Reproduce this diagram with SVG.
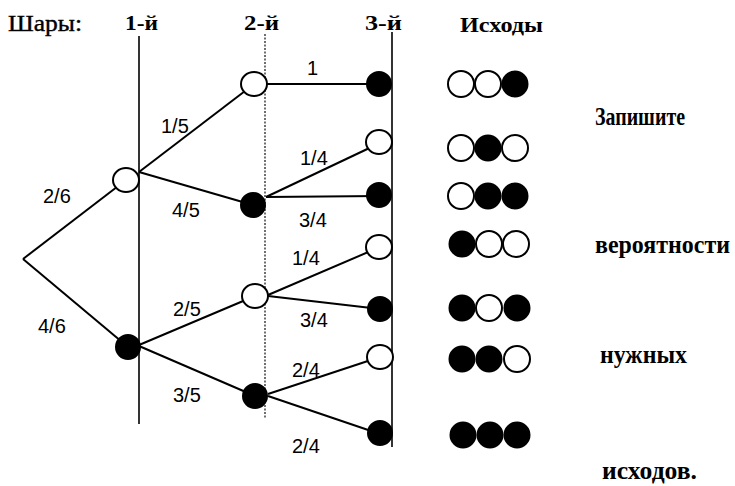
<svg xmlns="http://www.w3.org/2000/svg" width="735" height="486" viewBox="0 0 735 486">
  <style>
    .hdr { font-family: "Liberation Serif", "Times New Roman", serif; font-size: 22px; font-weight: bold; fill: #000; }
    .hdr-r { font-family: "Liberation Serif", "Times New Roman", serif; font-size: 23px; fill: #000; stroke: #000; stroke-width: 0.4; }
    .note { font-family: "Liberation Serif", "Times New Roman", serif; font-size: 25px; font-weight: bold; fill: #000; }
    .prob { font-family: "Liberation Sans", Arial, sans-serif; font-size: 20px; fill: #000; }
    .edge { stroke: #000; stroke-width: 2; fill: none; }
    .axis { stroke: #000; stroke-width: 1.6; }
    .axis-dot { stroke: #222; stroke-width: 1.3; stroke-dasharray: 2 1.5; }
    .w { fill: #fff; stroke: #000; stroke-width: 2; }
    .b { fill: #000; stroke: #000; stroke-width: 2; }
  </style>

  <rect width="735" height="486" fill="#fff"/>

  <!-- column headers -->
  <g id="headers">
    <text class="hdr-r" x="8" y="31" textLength="74" lengthAdjust="spacingAndGlyphs">Шары:</text>
    <text class="hdr" x="125" y="30" textLength="33" lengthAdjust="spacingAndGlyphs">1-й</text>
    <text class="hdr" x="244" y="30" textLength="35" lengthAdjust="spacingAndGlyphs">2-й</text>
    <text class="hdr" x="365" y="30" textLength="37" lengthAdjust="spacingAndGlyphs">3-й</text>
    <text class="hdr" x="460" y="32" textLength="83" lengthAdjust="spacingAndGlyphs">Исходы</text>
  </g>

  <!-- draw-stage guide lines -->
  <g id="guides">
    <line class="axis" x1="139" y1="36" x2="139" y2="424"/>
    <line class="axis-dot" x1="265" y1="34" x2="265" y2="418"/>
    <line class="axis" x1="392" y1="32" x2="392" y2="447"/>
  </g>

  <!-- branches -->
  <g id="connectors">
    <line class="edge" x1="23" y1="259" x2="126" y2="180"/>
    <line class="edge" x1="23" y1="259" x2="128" y2="347"/>
    <line class="edge" x1="139" y1="172" x2="245" y2="91"/>
    <line class="edge" x1="139" y1="172" x2="253" y2="205"/>
    <line class="edge" x1="139" y1="345" x2="255" y2="296"/>
    <line class="edge" x1="139" y1="346" x2="255" y2="396"/>
    <line class="edge" x1="267" y1="84" x2="380" y2="84"/>
    <line class="edge" x1="266" y1="197" x2="380" y2="143"/>
    <line class="edge" x1="266" y1="197" x2="380" y2="196"/>
    <line class="edge" x1="268" y1="295" x2="380" y2="247"/>
    <line class="edge" x1="268" y1="296" x2="380" y2="309"/>
    <line class="edge" x1="268" y1="394" x2="380" y2="357"/>
    <line class="edge" x1="268" y1="396" x2="380" y2="434"/>
  </g>

  <!-- branch probabilities -->
  <g id="labels">
    <text class="prob" x="43" y="203">2/6</text>
    <text class="prob" x="38" y="333">4/6</text>
    <text class="prob" x="161" y="133">1/5</text>
    <text class="prob" x="172" y="217">4/5</text>
    <text class="prob" x="173" y="316">2/5</text>
    <text class="prob" x="173" y="402">3/5</text>
    <text class="prob" x="307" y="75">1</text>
    <text class="prob" x="300" y="165">1/4</text>
    <text class="prob" x="299" y="227">3/4</text>
    <text class="prob" x="292" y="265">1/4</text>
    <text class="prob" x="300" y="327">3/4</text>
    <text class="prob" x="292" y="377">2/4</text>
    <text class="prob" x="292" y="453">2/4</text>
  </g>

  <!-- tree nodes -->
  <g id="root"><circle cx="23" cy="259" r="0.1" fill="#000"/></g>
  <g id="n1w"><ellipse class="w" cx="126" cy="180" rx="13" ry="12"/></g>
  <g id="n1b"><ellipse class="b" cx="128" cy="347" rx="12" ry="12"/></g>
  <g id="n2w-top"><ellipse class="w" cx="254" cy="84" rx="13" ry="12"/></g>
  <g id="n2b-top"><ellipse class="b" cx="253" cy="205" rx="12" ry="12"/></g>
  <g id="n2w-low"><ellipse class="w" cx="255" cy="296" rx="13" ry="12"/></g>
  <g id="n2b-low"><ellipse class="b" cx="255" cy="396" rx="12" ry="12"/></g>
  <g id="n3-1"><ellipse class="b" cx="379" cy="84" rx="12" ry="12"/></g>
  <g id="n3-2"><ellipse class="w" cx="379" cy="142" rx="13" ry="12"/></g>
  <g id="n3-3"><ellipse class="b" cx="379" cy="195" rx="12" ry="12"/></g>
  <g id="n3-4"><ellipse class="w" cx="379" cy="247" rx="13" ry="12"/></g>
  <g id="n3-5"><ellipse class="b" cx="380" cy="309" rx="12" ry="12"/></g>
  <g id="n3-6"><ellipse class="w" cx="380" cy="357" rx="13" ry="12"/></g>
  <g id="n3-7"><ellipse class="b" cx="380" cy="433" rx="12" ry="12"/></g>

  <!-- outcomes -->
  <g id="outcomes">
    <g id="o1"><circle class="w" cx="461" cy="84" r="13"/><circle class="w" cx="488" cy="84" r="13"/><circle class="b" cx="515" cy="84" r="12.5"/></g>
    <g id="o2"><circle class="w" cx="461" cy="148" r="13"/><circle class="b" cx="488" cy="148" r="12.5"/><circle class="w" cx="515" cy="148" r="13"/></g>
    <g id="o3"><circle class="w" cx="461" cy="196" r="13"/><circle class="b" cx="488" cy="196" r="12.5"/><circle class="b" cx="515" cy="196" r="12.5"/></g>
    <g id="o4"><circle class="b" cx="462" cy="244" r="12.5"/><circle class="w" cx="489" cy="244" r="13"/><circle class="w" cx="516" cy="244" r="13"/></g>
    <g id="o5"><circle class="b" cx="462" cy="308" r="12.5"/><circle class="w" cx="489" cy="308" r="13"/><circle class="b" cx="517" cy="308" r="12.5"/></g>
    <g id="o6"><circle class="b" cx="462" cy="359" r="12.5"/><circle class="b" cx="489" cy="359" r="12.5"/><circle class="w" cx="517" cy="359" r="13"/></g>
    <g id="o7"><circle class="b" cx="463" cy="435" r="12.5"/><circle class="b" cx="490" cy="435" r="12.5"/><circle class="b" cx="517" cy="435" r="12.5"/></g>
  </g>

  <!-- side note -->
  <g id="note">
    <text class="note" x="595" y="125" textLength="90" lengthAdjust="spacingAndGlyphs">Запишите</text>
    <text class="note" x="595" y="253" textLength="135" lengthAdjust="spacingAndGlyphs">вероятности</text>
    <text class="note" x="600" y="363" textLength="87" lengthAdjust="spacingAndGlyphs">нужных</text>
    <text class="note" x="602" y="479" textLength="95" lengthAdjust="spacingAndGlyphs">исходов.</text>
  </g>
</svg>
